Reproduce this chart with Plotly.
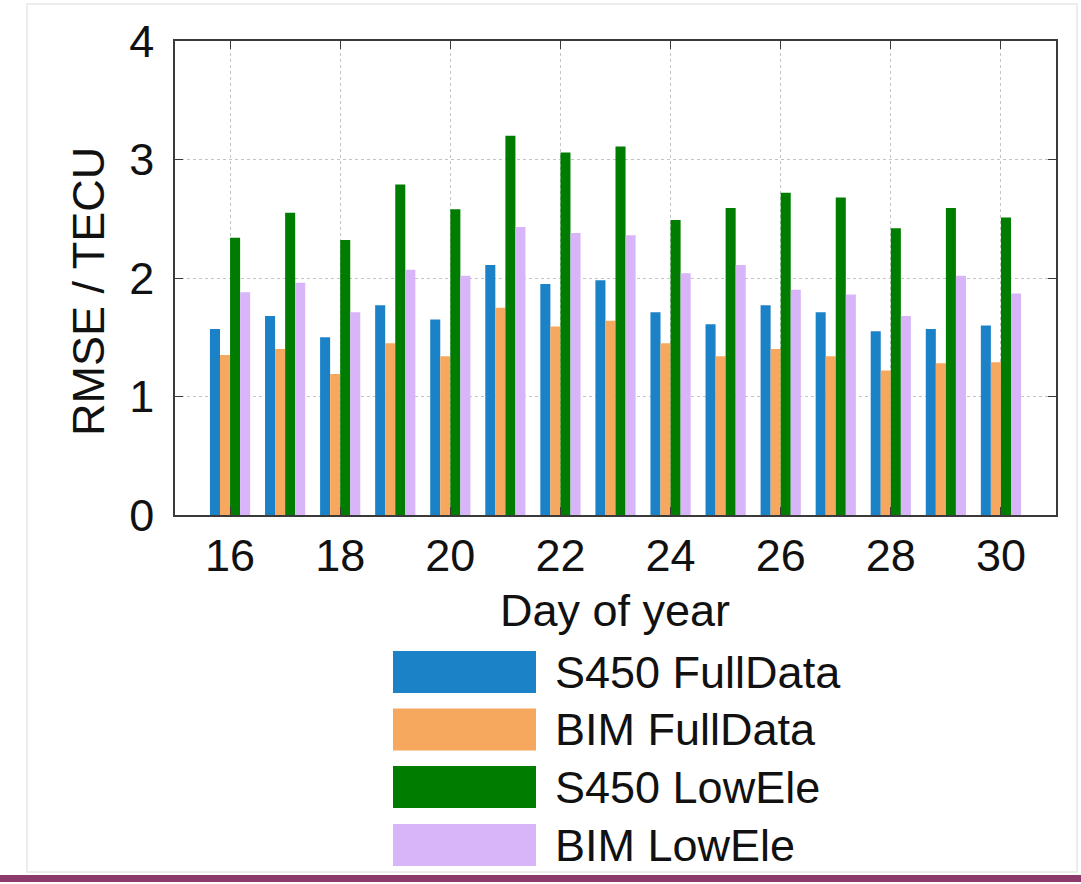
import plotly.graph_objects as go

# ---------------- data ----------------
days = list(range(16, 31))
series_names = ["S450 FullData", "BIM FullData", "S450 LowEle", "BIM LowEle"]
s450_full = [1.57, 1.68, 1.50, 1.77, 1.65, 2.11, 1.95, 1.98, 1.71, 1.61, 1.77, 1.71, 1.55, 1.57, 1.60]
bim_full = [1.35, 1.40, 1.19, 1.45, 1.34, 1.75, 1.59, 1.64, 1.45, 1.34, 1.40, 1.34, 1.22, 1.28, 1.29]
s450_low = [2.34, 2.55, 2.32, 2.79, 2.58, 3.20, 3.06, 3.11, 2.49, 2.59, 2.72, 2.68, 2.42, 2.59, 2.51]
bim_low = [1.88, 1.96, 1.71, 2.07, 2.02, 2.43, 2.38, 2.36, 2.04, 2.11, 1.90, 1.86, 1.68, 2.02, 1.87]
x_ticks = [16, 18, 20, 22, 24, 26, 28, 30]
y_ticks = [0, 1, 2, 3, 4]
x_title = "Day of year"
y_title = "RMSE / TECU"

colors = ["#1c82c8", "#f6a85e", "#007d00", "#d8b4f8"]
values = [s450_full, bim_full, s450_low, bim_low]

# ---------------- layout geometry (pixels) ----------------
W, H = 1081, 884
L, R, T, B = 175, 1056, 41, 515
FONT = "Liberation Sans, Arial, sans-serif"


def px(x):
    return (x - L) / (R - L)


def py(y):
    return (B - y) / (B - T)


fig = go.Figure()
for name, vals, col in zip(series_names, values, colors):
    fig.add_trace(go.Bar(x=days, y=vals, name=name, marker=dict(color=col, line=dict(width=0)),
                         showlegend=False))

axis_common = dict(
    showline=True, linecolor="#3a3a3a", linewidth=1.5, mirror="ticks",
    ticks="inside", ticklen=8, tickwidth=1.2, tickcolor="#3a3a3a",
    showgrid=True, gridcolor="#c4c4c4", gridwidth=1, griddash="dot",
    zeroline=False, tickfont=dict(family=FONT, size=45, color="#111111"),
)

fig.update_xaxes(range=[15, 31], tickmode="array", tickvals=x_ticks,
                 ticktext=[str(t) for t in x_ticks], ticklabelstandoff=0, **axis_common)
fig.update_yaxes(range=[0, 4], tickmode="array", tickvals=y_ticks,
                 ticktext=[str(t) for t in y_ticks], ticklabelstandoff=10, **axis_common)

annotations = [
    dict(text=x_title, x=px(615), y=py(610), xref="paper", yref="paper",
         xanchor="center", yanchor="middle", showarrow=False,
         font=dict(family=FONT, size=45, color="#111111")),
    dict(text=y_title, x=px(88), y=py(292), xref="paper", yref="paper",
         xanchor="center", yanchor="middle", showarrow=False, textangle=-90,
         font=dict(family=FONT, size=45, color="#111111")),
]

shapes = [
    # faint outer frame
    dict(type="rect", xref="paper", yref="paper", x0=px(27), x1=px(1077), y0=py(872), y1=py(4),
         line=dict(color="#ececec", width=2), fillcolor="rgba(0,0,0,0)", layer="below"),
    # purple band at the bottom
    dict(type="rect", xref="paper", yref="paper", x0=px(0), x1=px(1081), y0=py(882), y1=py(875),
         line=dict(width=0), fillcolor="#8b3a6b"),
]

# manual legend (wide swatches)
row_centers = [672, 729.5, 787, 845]
for name, col, yc in zip(series_names, colors, row_centers):
    shapes.append(dict(type="rect", xref="paper", yref="paper", x0=px(393), x1=px(536),
                       y0=py(yc + 21), y1=py(yc - 21), line=dict(width=0), fillcolor=col))
    annotations.append(dict(text=name, x=px(553), y=py(yc), xref="paper", yref="paper",
                            xanchor="left", yanchor="middle", showarrow=False,
                            font=dict(family=FONT, size=45, color="#111111")))

fig.update_layout(
    width=W, height=H,
    margin=dict(l=L, r=W - R, t=T, b=H - B, autoexpand=False),
    barmode="group", bargap=0.27, bargroupgap=0,
    plot_bgcolor="white", paper_bgcolor="white",
    annotations=annotations, shapes=shapes,
    font=dict(family=FONT),
)

fig.write_html("out.html", config={"displayModeBar": False},
               post_script="document.body.style.margin='0px';")
